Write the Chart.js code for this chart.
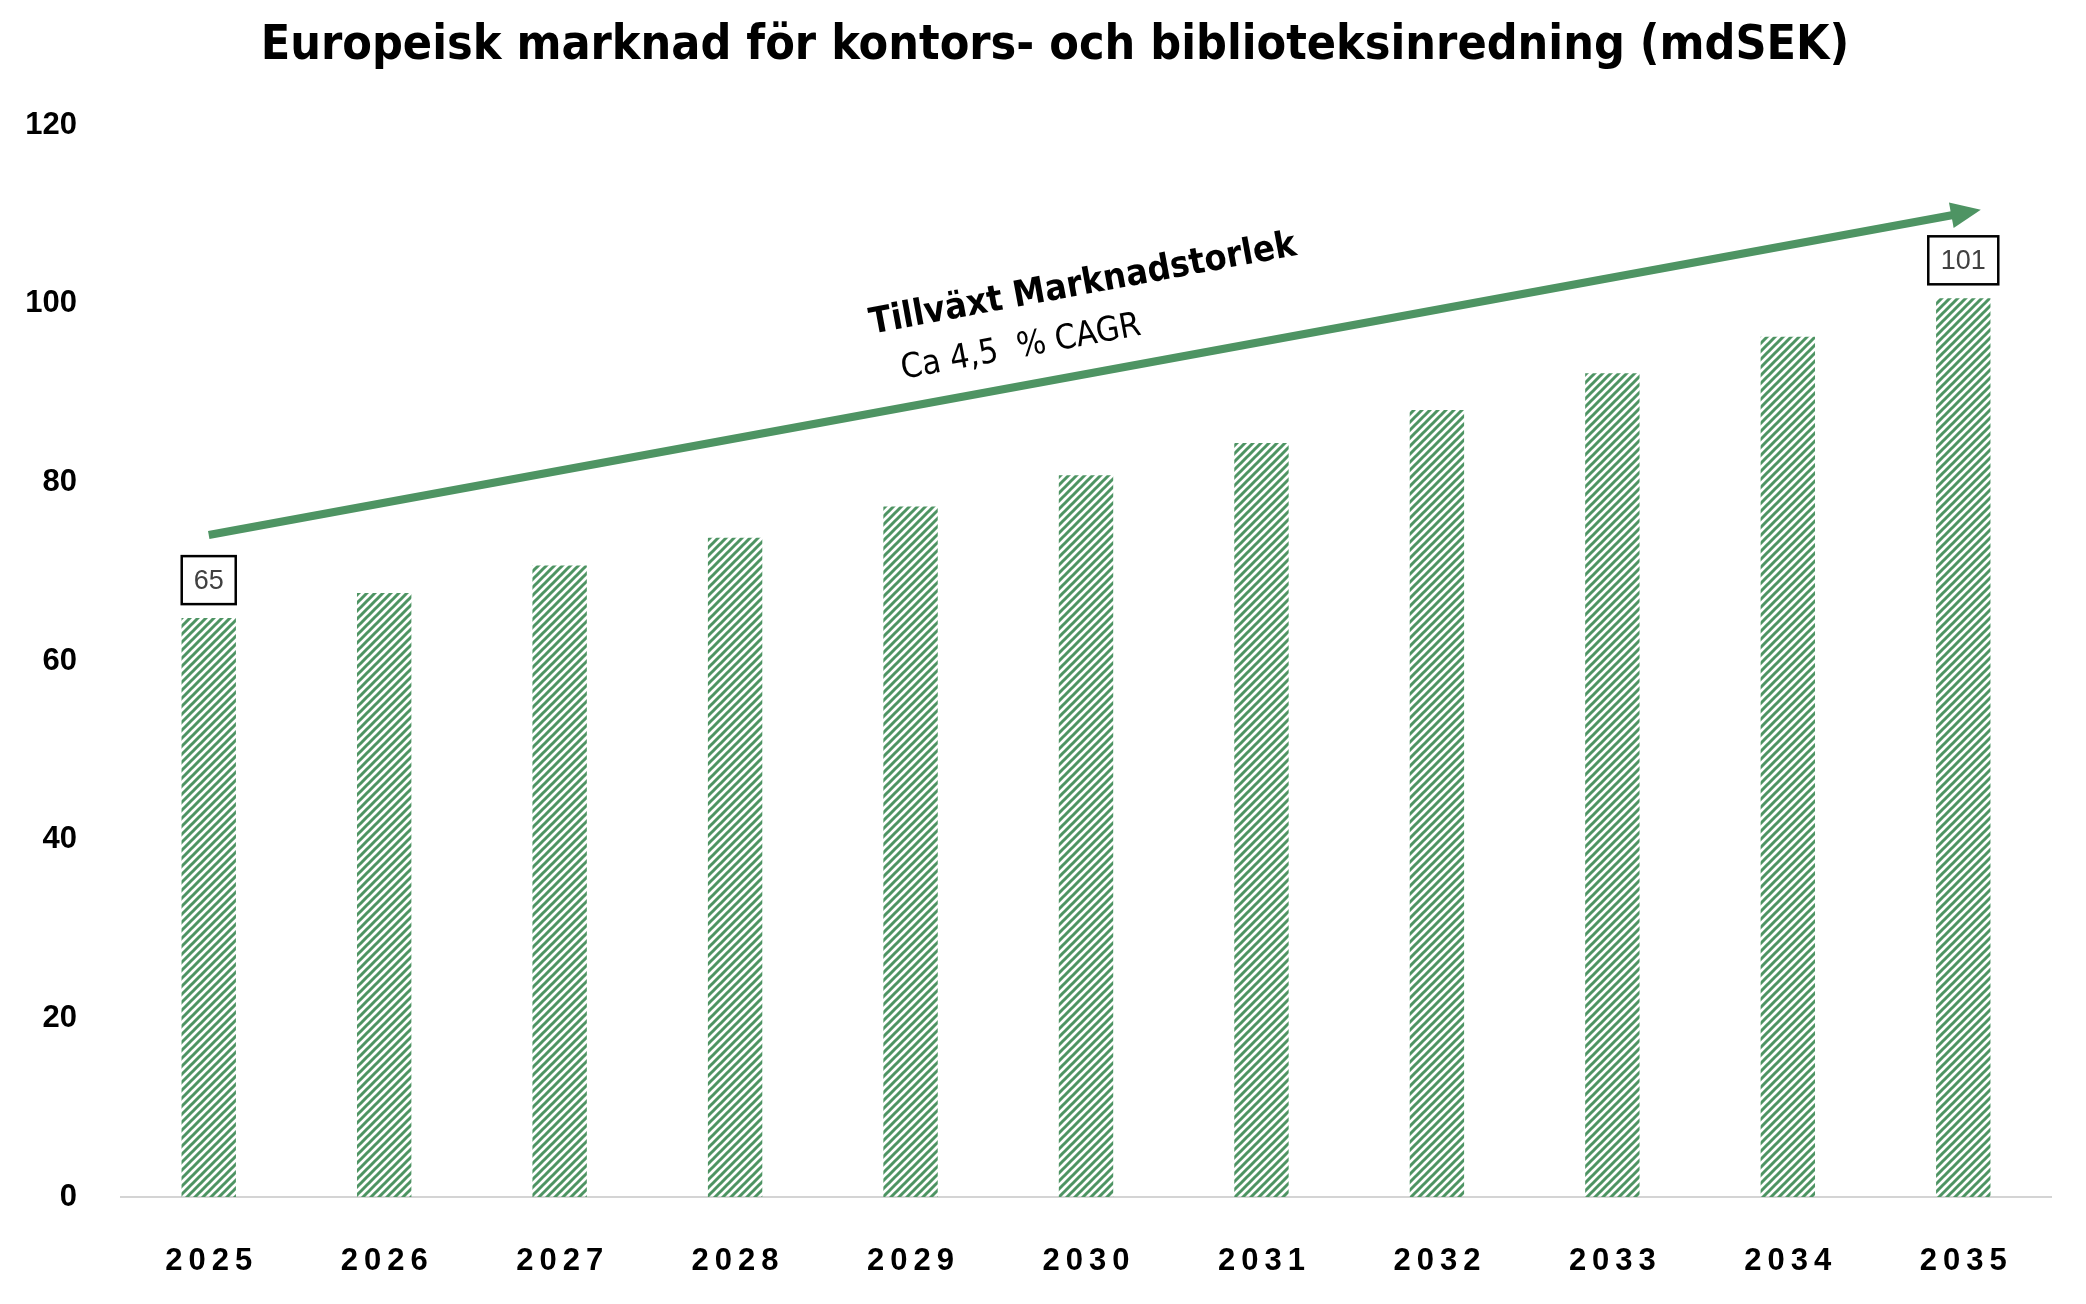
<!DOCTYPE html>
<html>
<head>
<meta charset="utf-8">
<script src="https://cdn.jsdelivr.net/npm/chart.js@4.4.1/dist/chart.umd.min.js"></script>
<style>
  html, body { margin: 0; padding: 0; background: #fff; }
  #wrap { width: 2086px; height: 1304px; }
</style>
</head>
<body>
<div id="wrap"><canvas id="marketChart" width="2086" height="1304"></canvas></div>
<script>
(function () {
    const YEARS = ['2025', '2026', '2027', '2028', '2029', '2030', '2031', '2032', '2033', '2034', '2035'];
    const MARKET_SIZE = [64.8, 67.6, 70.7, 73.8, 77.3, 80.8, 84.4, 88.1, 92.2, 96.3, 100.6];
    const LABELLED = { 0: '65', 10: '101' };
    const Y_TICKS = [0, 20, 40, 60, 80, 100, 120];
    // growth arrow, in (category index, value)
    const ARROW_START = [0, 74.1];
    const ARROW_END = [10.1, 110.5];

    const GREEN = '#4e9463';
    const CONDENSED = '"DejaVu Sans Condensed", "Liberation Sans Narrow", "Liberation Sans", sans-serif';

    function createHatch() {
        const size = 8;
        const c = document.createElement('canvas');
        c.width = size;
        c.height = size;
        const g = c.getContext('2d');
        g.strokeStyle = GREEN;
        g.lineWidth = 3;
        g.beginPath();
        g.moveTo(-2, size + 2); g.lineTo(size + 2, -2);
        g.moveTo(-2, 2); g.lineTo(2, -2);
        g.moveTo(size - 2, size + 2); g.lineTo(size + 2, size - 2);
        g.stroke();
        return g.createPattern(c, 'repeat');
    }

    const overlayPlugin = {
        id: 'overlay',
        afterDraw(chart) {
            const ctx = chart.ctx;
            const x = chart.scales.x;
            const y = chart.scales.y;

            // title
            ctx.save();
            ctx.fillStyle = '#000';
            ctx.font = 'bold 48px ' + CONDENSED;
            ctx.textAlign = 'center';
            ctx.textBaseline = 'middle';
            ctx.fillText('Europeisk marknad för kontors- och biblioteksinredning (mdSEK)', 1055, 47);
            ctx.restore();

            // x labels with letter spacing
            ctx.save();
            ctx.fillStyle = '#000';
            ctx.font = 'bold 31px "Liberation Sans", Arial, sans-serif';
            ctx.letterSpacing = '6px';
            ctx.textAlign = 'center';
            ctx.textBaseline = 'middle';
            YEARS.forEach((year, i) => {
                ctx.fillText(year, x.getPixelForValue(i) + 3, 1261);
            });
            ctx.restore();

            // value boxes
            ctx.save();
            ctx.font = '27px "Liberation Sans", Arial, sans-serif';
            ctx.textAlign = 'center';
            ctx.textBaseline = 'middle';
            Object.keys(LABELLED).forEach(key => {
                const i = Number(key);
                const cx = x.getPixelForValue(i);
                const top = y.getPixelForValue(MARKET_SIZE[i]);
                const w = key === '10' ? 70 : 54;
                const h = 48;
                const by = top - 14 - h;
                ctx.fillStyle = '#fff';
                ctx.fillRect(cx - w / 2, by, w, h);
                ctx.strokeStyle = '#000';
                ctx.lineWidth = 2.5;
                ctx.strokeRect(cx - w / 2, by, w, h);
                ctx.fillStyle = '#404040';
                ctx.fillText(LABELLED[key], cx, by + h / 2 + 1);
            });
            ctx.restore();

            // arrow
            const x1 = x.getPixelForValue(ARROW_START[0]);
            const y1 = y.getPixelForValue(ARROW_START[1]);
            const x2 = x.getPixelForValue(ARROW_END[0]);
            const y2 = y.getPixelForValue(ARROW_END[1]);
            const angle = Math.atan2(y2 - y1, x2 - x1);
            const head = 30;
            ctx.save();
            ctx.strokeStyle = GREEN;
            ctx.fillStyle = GREEN;
            ctx.lineWidth = 8;
            ctx.beginPath();
            ctx.moveTo(x1, y1);
            ctx.lineTo(x2 - head * 0.8 * Math.cos(angle), y2 - head * 0.8 * Math.sin(angle));
            ctx.stroke();
            ctx.translate(x2, y2);
            ctx.rotate(angle);
            ctx.beginPath();
            ctx.moveTo(0, 0);
            ctx.lineTo(-head, -13);
            ctx.lineTo(-head, 13);
            ctx.closePath();
            ctx.fill();
            ctx.restore();

            // arrow text
            ctx.save();
            ctx.fillStyle = '#000';
            ctx.translate(1083, 285);
            ctx.rotate(-10.5 * Math.PI / 180);
            ctx.textAlign = 'center';
            ctx.textBaseline = 'middle';
            ctx.font = 'bold 36px ' + CONDENSED;
            ctx.fillText('Tillväxt Marknadstorlek', 0, 0);
            ctx.restore();

            ctx.save();
            ctx.fillStyle = '#000';
            ctx.translate(1021, 348);
            ctx.rotate(-10.5 * Math.PI / 180);
            ctx.textAlign = 'center';
            ctx.textBaseline = 'middle';
            ctx.font = '34px ' + CONDENSED;
            ctx.fillText('Ca 4,5  % CAGR', 0, 0);
            ctx.restore();
        }
    };

    const canvas = document.getElementById('marketChart');
    new Chart(canvas, {
        type: 'bar',
        data: {
            labels: YEARS,
            datasets: [{
                data: MARKET_SIZE,
                backgroundColor: createHatch(),
                borderWidth: 0,
                barPercentage: 0.62,
                categoryPercentage: 0.5
            }]
        },
        options: {
            responsive: false,
            animation: false,
            devicePixelRatio: 1,
            layout: { padding: { top: 125, bottom: 107, left: 0, right: 35 } },
            scales: {
                x: {
                    grid: { display: false },
                    border: { display: true, color: '#d4d4d4', width: 2 },
                    ticks: { display: false },
                    afterFit: s => { s.height = 0; }
                },
                y: {
                    min: 0,
                    max: 120,
                    afterBuildTicks: s => { s.ticks = Y_TICKS.map(v => ({ value: v })); },
                    grid: { display: false },
                    border: { display: false },
                    ticks: {
                        padding: 36,
                        color: '#000',
                        font: { family: '"Liberation Sans", Arial, sans-serif', size: 31, weight: 'bold' }
                    },
                    afterFit: s => { s.width = 121; }
                }
            },
            plugins: {
                legend: { display: false },
                tooltip: { enabled: false }
            }
        },
        plugins: [overlayPlugin]
    });
})();
</script>
</body>
</html>
